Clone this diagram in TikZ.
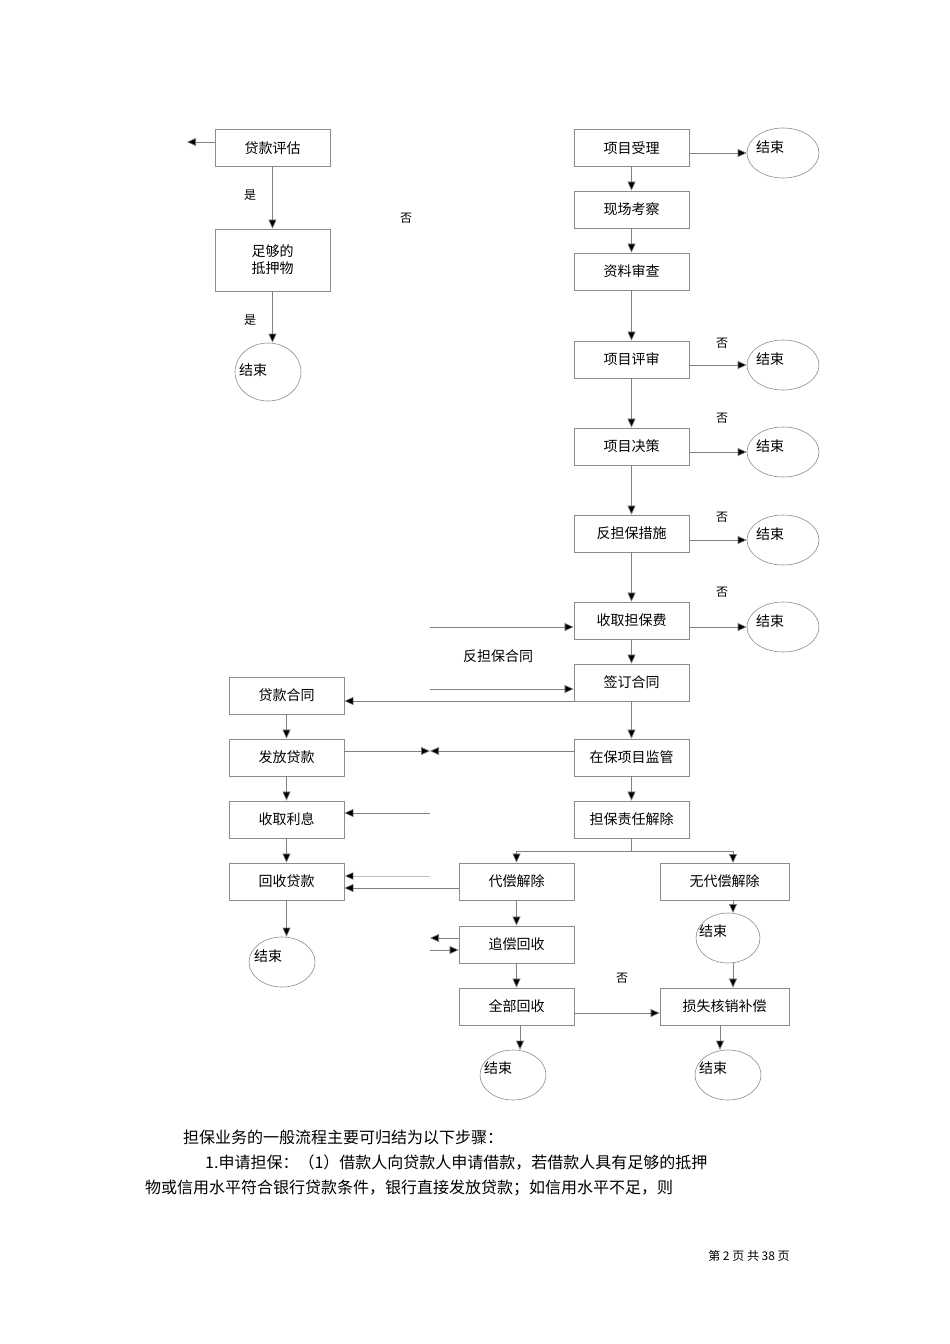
\documentclass[tikz,border=0pt]{standalone}
\usepackage{fontspec}
\newfontfamily\cjk{Noto Sans CJK SC}
\usetikzlibrary{arrows.meta,shapes.geometric}
\begin{document}
\begin{tikzpicture}[x=1pt,y=-1pt,
  box/.style={draw=black!45,line width=0.7pt,minimum height=37pt,inner sep=0pt,font=\cjk\fontsize{14}{17}\selectfont,align=center},
  endn/.style={draw=black!45,line width=0.6pt,ellipse,minimum width=68pt,minimum height=50pt,inner sep=0pt,font=\cjk\fontsize{14}{17}\selectfont,text depth=0pt},
  ln/.style={draw=black!50,line width=0.6pt},
  ar/.style={ln,-{Triangle[length=9pt,width=8pt,fill=black]}},
  lab/.style={font=\cjk\fontsize{12}{14}\selectfont}]
\useasboundingbox (0,0) rectangle (950,1344);
% left top
\node[box,minimum width=115pt] (pg) at (272.5,148) {贷款评估};
\node[box,minimum width=115pt,minimum height=62pt] (dy) at (272.5,260) {足够的\\抵押物};
\node[endn,minimum width=66pt,minimum height=58pt] (e0) at (268,372) {};
\node[font=\cjk\fontsize{14}{17}\selectfont] at (253,370) {结束};
\coordinate (c0) at (187,142);
\draw[ar] (pg.west |- c0) -- (c0);
\draw[ar] (pg) -- (dy);
\draw[ar] (dy.south) -- (e0.north -| dy.south);
\node[lab] at (250,195) {是};
\node[lab] at (250,320) {是};
\node[lab] at (406,218) {否};
% right column
\def\rx{631.5}
\node[box,minimum width=115pt] (a1) at (\rx,148) {项目受理};
\node[box,minimum width=115pt] (a2) at (\rx,209.5) {现场考察};
\node[box,minimum width=115pt] (a3) at (\rx,271.5) {资料审查};
\node[box,minimum width=115pt] (a4) at (\rx,359.5) {项目评审};
\node[box,minimum width=115pt] (a5) at (\rx,446.5) {项目决策};
\node[box,minimum width=115pt] (a6) at (\rx,533.5) {反担保措施};
\node[box,minimum width=115pt] (a7) at (\rx,620.5) {收取担保费};
\node[box,minimum width=115pt] (a8) at (\rx,682.5) {签订合同};
\node[box,minimum width=115pt] (a9) at (\rx,757.5) {在保项目监管};
\node[box,minimum width=115pt] (a10) at (\rx,819.5) {担保责任解除};
\foreach \a/\b in {a1/a2,a2/a3,a3/a4,a4/a5,a5/a6,a6/a7,a7/a8,a8/a9,a9/a10}{\draw[ar] (\a) -- (\b);}
\foreach \n/\y in {1/153,2/365,3/452,4/540,5/627}{
  \node[endn,minimum width=72pt] (r\n) at (783,\y) {};
  \node[font=\cjk\fontsize{14}{17}\selectfont] at (770,\y-6) {结束};
}
\draw[ar] (a1.east |- r1) -- (r1.west);
\draw[ar] (a4.east |- r2) -- (r2.west);
\draw[ar] (a5.east |- r3) -- (r3.west);
\draw[ar] (a6.east |- r4) -- (r4.west);
\draw[ar] (a7.east |- r5) -- (r5.west);
\node[lab] at (722,343) {否};
\node[lab] at (722,418) {否};
\node[lab] at (722,517) {否};
\node[lab] at (722,592) {否};
% left lower column
\def\lx{286.5}
\node[box,minimum width=115pt] (b1) at (\lx,695.5) {贷款合同};
\node[box,minimum width=115pt] (b2) at (\lx,757.5) {发放贷款};
\node[box,minimum width=115pt] (b3) at (\lx,819.5) {收取利息};
\node[box,minimum width=115pt] (b4) at (\lx,881.5) {回收贷款};
\foreach \a/\b in {b1/b2,b2/b3,b3/b4}{\draw[ar] (\a) -- (\b);}
\node[endn,minimum width=66pt] (e1) at (282,962) {};
\node[font=\cjk\fontsize{14}{17}\selectfont] at (268,956) {结束};
\draw[ar] (b4.south) -- (e1.north -| b4.south);
% horizontal links
\coordinate (p1) at (430,627); \draw[ar] (p1) -- (a7.west |- p1);
\coordinate (p2) at (430,689); \draw[ar] (p2) -- (a8.west |- p2);
\node[lab,font=\cjk\fontsize{14}{17}\selectfont] at (498,656) {反担保合同};
\draw[ar] (a8.west |- 0,701) -- (b1.east |- 0,701);
\coordinate (p3) at (430,751);
\draw[ar] (a9.west |- p3) -- (p3);
\draw[ar] (b2.east |- p3) -- (p3);
\coordinate (p4) at (430,813); \draw[ar] (p4) -- (b3.east |- p4);
\coordinate (p5) at (430,876); \draw[ar,draw=black!25] (p5) -- (b4.east |- p5);
% bottom middle
\node[box,minimum width=115pt] (c1) at (516.5,881.5) {代偿解除};
\node[box,minimum width=129pt] (d1) at (724.5,881.5) {无代偿解除};
\node[box,minimum width=115pt] (c2) at (516.5,944.5) {追偿回收};
\node[box,minimum width=115pt] (c3) at (516.5,1006.5) {全部回收};
\node[box,minimum width=129pt] (d2) at (724.5,1006.5) {损失核销补偿};
\draw[ar] (c1.west |- 0,888) -- (b4.east |- 0,888);
\coordinate (j1) at (631.5,851);
\draw[ln] (a10.south) -- (j1);
\draw[ar] (j1) -| (c1.north);
\draw[ar] (j1) -| (733,863);
\draw[ar] (c1) -- (c2);
\draw[ar] (c2) -- (c3);
\coordinate (p6) at (430,938); \draw[ar] (c2.west |- p6) -- (p6);
\coordinate (p7) at (430,950); \draw[ar] (p7) -- (c2.west |- p7);
\node[endn,minimum width=64pt] (e2) at (728,938) {};
\node[font=\cjk\fontsize{14}{17}\selectfont] at (713,931) {结束};
\draw[ar] (733,900) -- (733,913);
\draw[ar] (733,963) -- (d2.north -| 733,0);
\draw[ar] (c3.east |- 0,1013) -- (d2.west |- 0,1013);
\node[lab] at (622,978) {否};
\node[endn,minimum width=66pt] (e3) at (513,1075) {};
\node[font=\cjk\fontsize{14}{17}\selectfont] at (498,1068) {结束};
\node[endn,minimum width=66pt] (e4) at (728,1075) {};
\node[font=\cjk\fontsize{14}{17}\selectfont] at (713,1068) {结束};
\draw[ar] (c3.south -| 520,0) -- (e3.north -| 520,0);
\draw[ar] (d2.south -| 720,0) -- (e4.north -| 720,0);
% text
\node[anchor=west,font=\cjk\fontsize{16}{19}\selectfont,inner sep=0pt] (t1) at (183,1137) {担保业务的一般流程主要可归结为以下步骤：};
\node[anchor=west,font=\cjk\fontsize{16}{19}\selectfont,inner sep=0pt] (t2) at (205,1162) {1.申请担保：（1）借款人向贷款人申请借款，若借款人具有足够的抵押};
\node[anchor=west,font=\cjk\fontsize{16}{19}\selectfont,inner sep=0pt] (t3) at (145,1188) {物或信用水平符合银行贷款条件，银行直接发放贷款；如信用水平不足，则};
\node[font=\cjk\fontsize{12}{14}\selectfont,inner sep=0pt] (ft) at (749,1256) {第 2 页 共 38 页};
\end{tikzpicture}
\end{document}
